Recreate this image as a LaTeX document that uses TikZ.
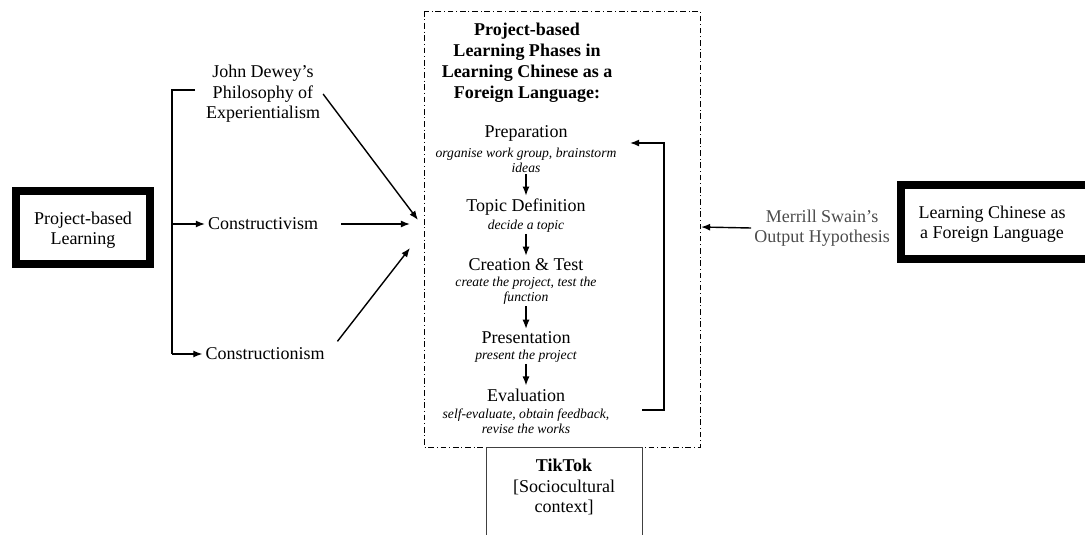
\documentclass[tikz,border=0pt]{standalone}
\usepackage{fontspec}
\setmainfont{Liberation Serif}
\usetikzlibrary{arrows.meta}
\tikzset{
  txt/.style={align=center, inner sep=2pt, font=\fontsize{12.8}{14.6}\selectfont},
  desc/.style={align=center, inner sep=1pt, font=\fontsize{9.7}{10.8}\selectfont\itshape},
  heavybox/.style={draw, line width=0.2cm},
  arr/.style={-{Latex[length=6.5pt,width=5pt]}, line width=1pt},
}
\begin{document}
\begin{tikzpicture}[x=0.025cm,y=-0.025cm]
      \clip (0,0) rectangle (1085,534);
      % frames
      \draw[heavybox] (16,191) rectangle (150,264);
      \draw[heavybox] (901,185) rectangle (1100,259);
      \draw[line width=0.6pt, dash pattern=on 4pt off 2pt on 0.7pt off 2pt]
        (424,11) rectangle (700,447);
      \draw[black!75, line width=0.6pt] (486,545) -- (486,447) -- (642,447) -- (642,545);
      \draw
        (83,230) node[txt] (pbl){Project-based\\Learning}
        (263,94) node[txt] (dewey){John Dewey’s\\Philosophy of\\Experientialism}
        (263,224) node[txt] (cvism){Constructivism}
        (265,354) node[txt] (cnism){Constructionism}
        (527,63) node[txt, font=\fontsize{12.8}{14.9}\selectfont\bfseries] (title){Project-based\\Learning Phases in\\Learning Chinese as a\\Foreign Language:}
        (526,133) node[txt] (prep){Preparation}
        (526,160) node[desc] (prepd){organise work group, brainstorm\\ideas}
        (526,207) node[txt] (topic){Topic Definition}
        (526,226) node[desc] (topicd){decide a topic}
        (526,265) node[txt] (create){Creation \& Test}
        (526,291) node[desc] (created){create the project, test the\\function}
        (526,338) node[txt] (pres){Presentation}
        (526,356) node[desc] (presd){present the project}
        (526,395) node[txt] (eval){Evaluation}
        (526,421) node[desc] (evald){self-evaluate, obtain feedback,\\revise the works}
        (564,487) node[txt] (tiktok){\textbf{TikTok}\\{[}Sociocultural\\context{]}}
        (822,228) node[txt, text=black!70] (swain){Merrill Swain’s\\Output Hypothesis}
        (992,224) node[txt] (lcfl){Learning Chinese as\\a Foreign Language};
      \coordinate (brtop) at (195,90);
      \coordinate (brmid) at (172,224);
      \coordinate (brbot) at (172,354);
      \coordinate (in1) at (418,220);
      \coordinate (in2) at (410,224);
      \coordinate (in3) at (410,248);
      \coordinate (swainin) at (701,227);
      \coordinate (fbout) at (642,410);
      \coordinate (fbin) at (630,143);
      \begin{scope}[arr]
        \draw[-, line width=0.8pt] (brtop) -- (brmid |- brtop) -- (brbot);
        \draw (brmid) -- (cvism.west);
        \draw (brbot) -- (cnism.west);
        \draw (dewey.east) -- (in1);
        \draw[shorten <=0.5cm] (cvism.east) -- (in2);
        \draw[shorten <=0.4cm] (cnism.east) -- (in3);
        \draw (prepd) -- (topic);
        \draw (topicd) -- (create);
        \draw (created) -- (pres);
        \draw (presd) -- (eval);
        \draw (fbout) -- (664,410) -- (664,143) -- (fbin);
        \draw (swain.west) -- (swainin);
      \end{scope}
    \end{tikzpicture}
\end{document}
